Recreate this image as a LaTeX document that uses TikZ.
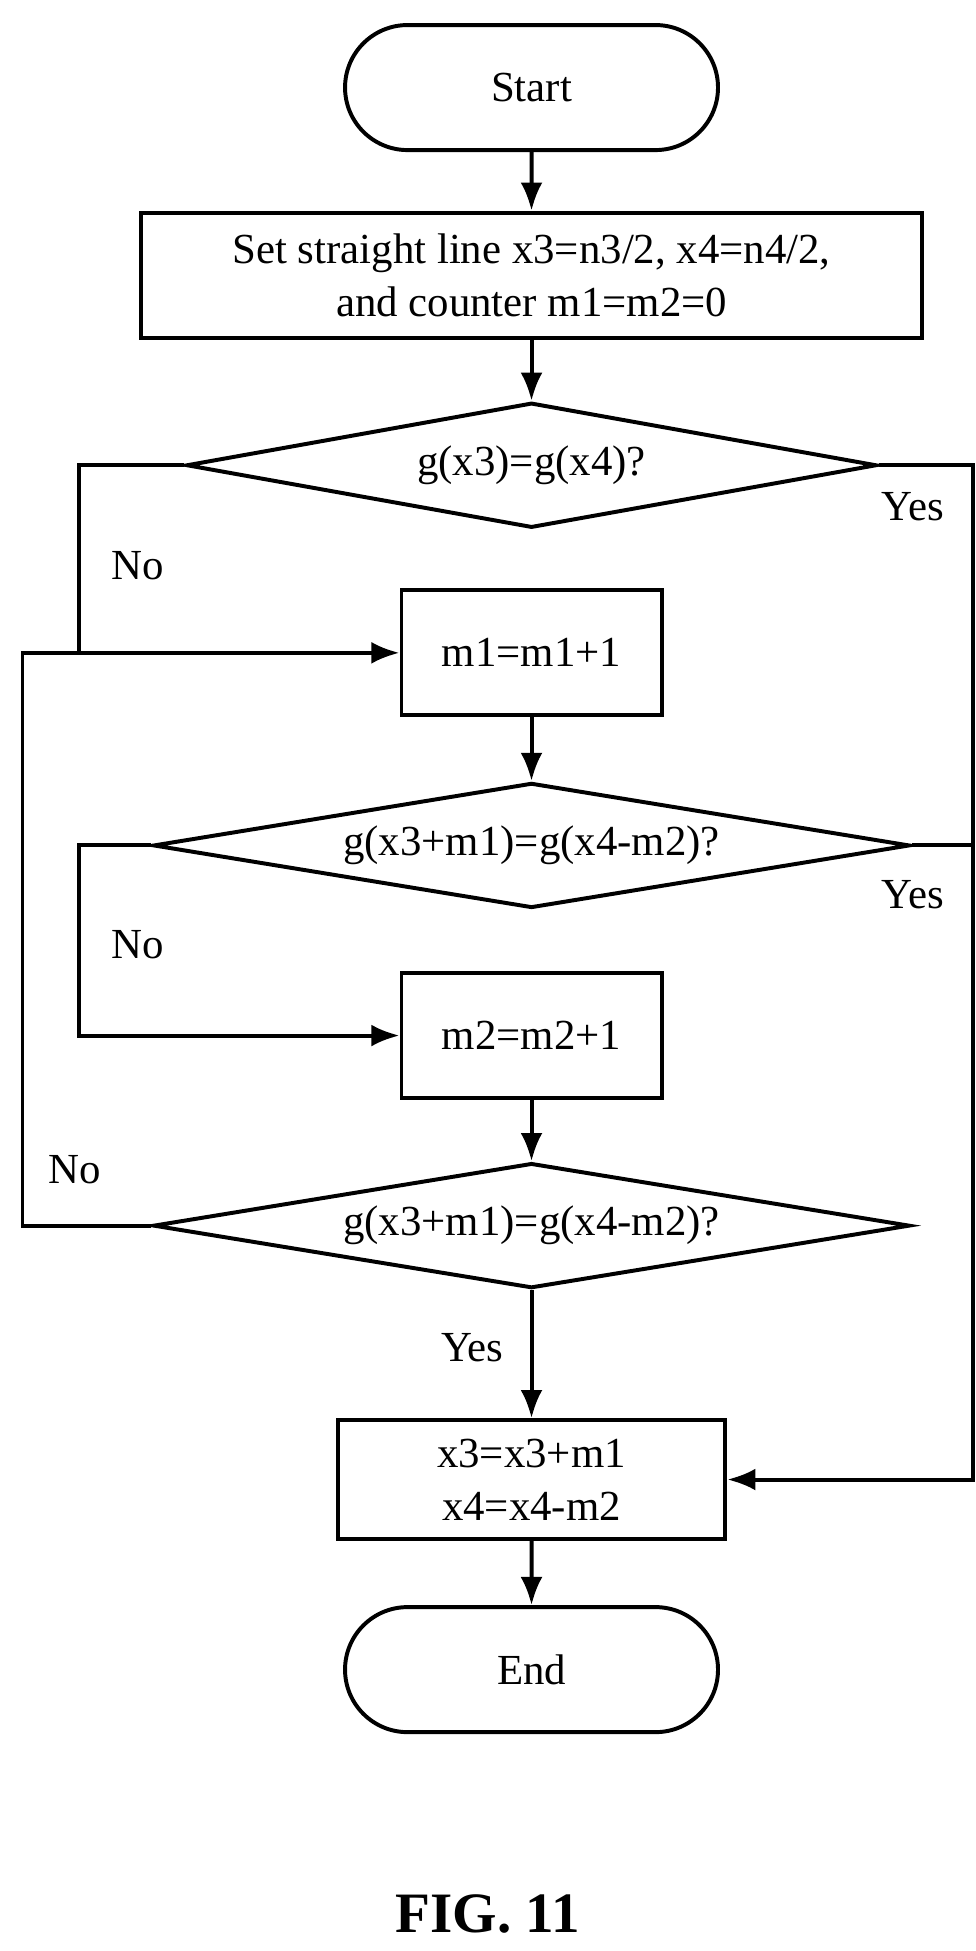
\documentclass[tikz,border=0pt]{standalone}
\usepackage{fontspec}
\setmainfont{Liberation Serif}
\usetikzlibrary{shapes.geometric,shapes.misc,arrows.meta}
\begin{document}
\begin{tikzpicture}[>={Latex[length=0.45cm,width=0.35cm]}, x=0.02cm, y=-0.02cm, line width=1.8pt,
  every node/.style={font=\fontsize{19.5}{24}\selectfont},
  term/.style={draw, rounded rectangle, minimum width=6.2cm, minimum height=2cm},
  proc/.style={draw, align=center, minimum height=2cm},
  cond/.style={draw, diamond, aspect=5.5, inner sep=0pt},
  lbl/.style={draw=none}]
\useasboundingbox (0,0) rectangle (780,1560);
%start
\node[term] (start) at (425,70) {Start};
%init
\node[proc, minimum width=12.5cm] (init) at (425,220) {Set straight line x3=n3/2, x4=n4/2,\\and counter m1=m2=0};
%first test
\node[cond, minimum width=11.04cm, minimum height=2cm] (d1) at (425,372) {g(x3)=g(x4)?};
%counters
\node[proc, minimum width=4.16cm] (inc1) at (425,522) {m1=m1+1};
\node[cond, minimum width=12.1cm, minimum height=2cm] (d2) at (425,676) {g(x3+m1)=g(x4-m2)?};
\node[proc, minimum width=4.16cm] (inc2) at (425,828) {m2=m2+1};
\node[cond, minimum width=12.1cm, minimum height=2cm] (d3) at (425,980) {g(x3+m1)=g(x4-m2)?};
%result
\node[proc, minimum width=6.2cm, minimum height=1.9cm] (upd) at (425,1183) {x3=x3+m1\\x4=x4-m2};
\node[term] (end) at (425,1335) {End};
\node at (390,1530) {\fontsize{26}{30}\selectfont\bfseries FIG. 11};
%straight links
\draw[->] (start) -- (init);
\draw[->] (init) -- (d1);
\draw[->] (inc1) -- (d2);
\draw[->] (inc2) -- (d3);
\draw[->] (d3) -- node[lbl, left=0.3cm, pos=0.45] {Yes} (upd);
\draw[->] (upd) -- (end);
%no branches
\coordinate (j1) at (63,522);
\draw (d1.west) -- (63,372) -- (j1);
\draw[->] (j1) -- (inc1.west);
\draw[->] (d2.west) -- (63,676) -- (63,828) -- (inc2.west);
\draw (d3.west) -- (18,980) -- (18,522) -- (j1);
\node at (110,452) {No};
\node at (110,755) {No};
\node at (60,935) {No};
%yes branches
\draw[->] (d1.east) -- (778,372) -- (778,1183) -- (upd.east);
\draw (d2.east) -- (778,676);
\node at (730,405) {Yes};
\node at (730,715) {Yes};
\end{tikzpicture}
\end{document}
